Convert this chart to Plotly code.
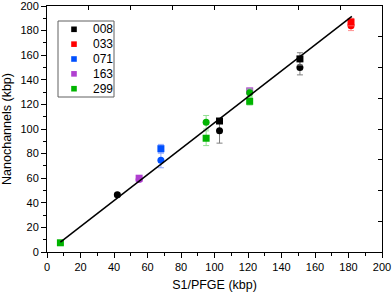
import plotly.graph_objects as go

# ---- data ----
series_names = ["008", "033", "071", "163", "299"]
series_colors = ["#000000", "#ff0000", "#0050ff", "#b040d0", "#00b400"]
err_colors = ["#808080", "#ff9090", "#90a8ff", "#d8a0e8", "#90e090"]

sq_x = {"008": [103, 151], "033": [181.5], "071": [68], "163": [55, 121], "299": [8, 95, 121]}
sq_y = {"008": [106.5, 157], "033": [187], "071": [84], "163": [60, 131], "299": [7.5, 92.5, 122.5]}
sq_e = {"008": [2, 5], "033": [3], "071": [3.5], "163": [1.5, 2], "299": [1.5, 6, 3]}

ci_x = {"008": [42, 103, 151], "033": [181.5], "071": [68], "163": [55], "299": [95, 121]}
ci_y = {"008": [46.5, 98.5, 150], "033": [184], "071": [74.5], "163": [59], "299": [105.5, 129.5]}
ci_e = {"008": [1.5, 10, 6], "033": [4], "071": [6], "163": [1.5], "299": [5.5, 3]}

fit_x = [8, 182]
fit_y = [8.0, 191.5]

x_ticks = list(range(0, 201, 20))
y_ticks = list(range(0, 201, 20))

FONT = "Liberation Sans, Arial, sans-serif"
W, H = 392, 293
ML, MR, MT, MB = 47, 10, 6, 41
PW, PH = W - ML - MR, H - MT - MB

fig = go.Figure()

for name, col, ecol in zip(series_names, series_colors, err_colors):
    fig.add_trace(go.Scatter(
        x=ci_x[name], y=ci_y[name], mode="markers", showlegend=False,
        marker=dict(symbol="circle", size=7, color=col),
        error_y=dict(type="data", array=ci_e[name], color=ecol, thickness=1, width=3),
        hoverinfo="skip"))
    fig.add_trace(go.Scatter(
        x=sq_x[name], y=sq_y[name], mode="markers", name=name, showlegend=False,
        marker=dict(symbol="square", size=7, color=col),
        error_y=dict(type="data", array=sq_e[name], color=ecol, thickness=1, width=3),
        hoverinfo="skip"))

fig.add_trace(go.Scatter(x=fit_x, y=fit_y, mode="lines", showlegend=False,
                         line=dict(color="black", width=1.5), hoverinfo="skip"))

# invisible trace to activate mirrored axes (top/right ticks)
fig.add_trace(go.Scatter(x=[None], y=[None], xaxis="x2", yaxis="y2",
                         mode="markers", showlegend=False, hoverinfo="skip"))


def px_x(p):
    return (p - ML) / PW


def px_y(p):
    return (H - MB - p) / PH


# compact legend box (drawn as layout decoration)
shapes = [dict(type="rect", xref="paper", yref="paper",
               x0=px_x(58), x1=px_x(114), y0=px_y(97), y1=px_y(21),
               line=dict(color="#606060", width=1), fillcolor="white", layer="above")]
annotations = []
for i, (name, col) in enumerate(zip(series_names, series_colors)):
    cy = 29.3 + i * 14.85
    shapes.append(dict(type="rect", xref="paper", yref="paper",
                       x0=px_x(74 - 2.8), x1=px_x(74 + 2.8),
                       y0=px_y(cy + 2.8), y1=px_y(cy - 2.8),
                       line=dict(width=0), fillcolor=col, layer="above"))
    annotations.append(dict(text=name, xref="paper", yref="paper",
                            x=px_x(91), y=px_y(cy), xanchor="left", yanchor="middle",
                            showarrow=False, font=dict(size=12, color="black")))

fig.update_layout(
    width=W, height=H,
    margin=dict(l=ML, r=MR, t=MT, b=MB, autoexpand=False),
    paper_bgcolor="white", plot_bgcolor="white",
    font=dict(family=FONT, size=11, color="black"),
    showlegend=False,
    shapes=shapes, annotations=annotations,
    xaxis=dict(range=[0, 200], tickvals=x_ticks, ticks="outside", ticklen=5,
               tickcolor="black", showline=True, linecolor="black", linewidth=1,
               showgrid=False, zeroline=False, automargin=False,
               ticklabeloverflow="allow",
               minor=dict(dtick=10, ticks="outside", ticklen=3, tickcolor="black"),
               title=dict(text="S1/PFGE (kbp)", font=dict(size=12.5), standoff=8)),
    yaxis=dict(range=[0, 200], tickvals=y_ticks, ticks="outside", ticklen=5,
               tickcolor="black", showline=True, linecolor="black", linewidth=1,
               showgrid=False, zeroline=False, automargin=False,
               ticklabeloverflow="allow",
               minor=dict(dtick=10, ticks="outside", ticklen=3, tickcolor="black"),
               title=dict(text="Nanochannels (kbp)", font=dict(size=12.5), standoff=6)),
    xaxis2=dict(range=[0, 200], overlaying="x", side="top", anchor="y2",
                dtick=25, ticks="inside", ticklen=4, tickcolor="black",
                showticklabels=False, showline=True, linecolor="black",
                showgrid=False, zeroline=False, automargin=False),
    yaxis2=dict(range=[0, 200], overlaying="y", side="right", anchor="x2",
                dtick=25, ticks="inside", ticklen=4, tickcolor="black",
                showticklabels=False, showline=True, linecolor="black",
                showgrid=False, zeroline=False, automargin=False),
)

fig.write_html("out.html", config={"displayModeBar": False},
               post_script="document.body.style.margin='0px';document.body.style.overflow='hidden';")
